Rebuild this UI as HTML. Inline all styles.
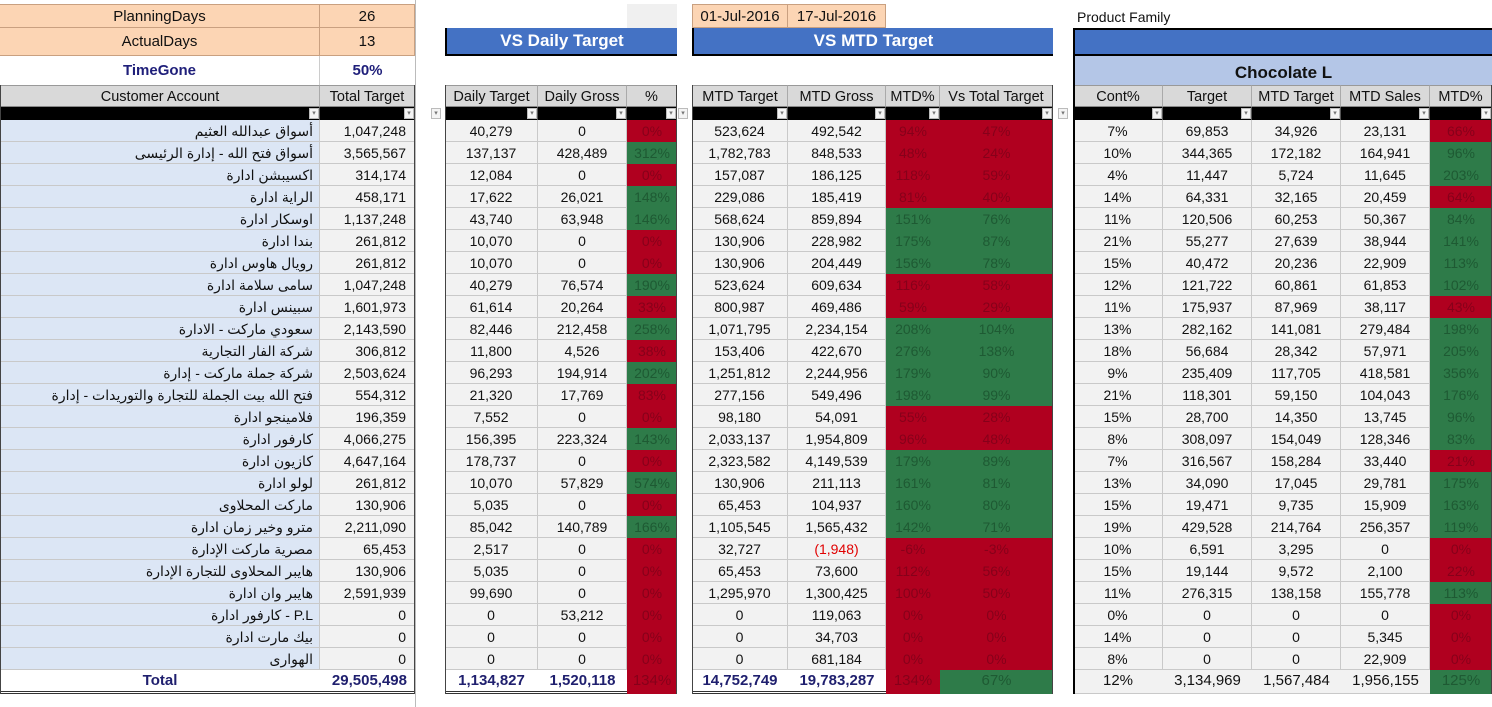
<!DOCTYPE html>
<html><head><meta charset="utf-8">
<style>
body{margin:0;width:1492px;height:707px;background:#fff;position:relative;overflow:hidden;font-family:"Liberation Sans","Noto Sans CJK SC","DejaVu Sans",sans-serif;}
.c{position:absolute;box-sizing:border-box;font-size:14px;line-height:22px;white-space:nowrap;overflow:hidden;color:#111;text-align:center;}
.g{background:#f2f2f2;border-right:1px solid #c9c9c9;border-bottom:1px solid #c9c9c9;}
.nm{background:#dce6f5;text-align:right;padding-right:6px;border-bottom:1px solid #c9c9c9;border-right:1px solid #c9c9c9;}
.tt{text-align:right;padding-right:8px;}
.R{background:#b0001f;color:#86001a;border-bottom:1px solid #b0001f;}
.G{background:#2e7b49;color:#1e5a33;border-bottom:1px solid #2e7b49;}
.h{background:#d9d9d9;border-right:1px solid #aaa;border-bottom:1px solid #888;}
.f{background:#000;height:13px;border-right:1px solid #555;}
.dd{position:absolute;width:10px;height:11px;background:#f4f4f4;border:1px solid #bbb;box-sizing:border-box;font-size:7px;line-height:9px;color:#777;text-align:center;}
.or{background:#fcd5b4;border-right:1px solid #c9a080;border-bottom:1px solid #c9a080;}
.bl{background:#4472c4;color:#fff;font-weight:bold;font-size:17px;line-height:26px;border:2px solid #000;border-top:none;border-right:none;}
.tot{font-weight:bold;color:#1f1f6e;background:#fff;border-bottom:3px double #333;}
</style></head><body>
<div class="c or" style="left:0;top:4px;width:320px;height:24px;font-size:15px;line-height:24px;border-top:1px solid #c9a080">PlanningDays</div>
<div class="c or" style="left:320px;top:4px;width:95px;height:24px;font-size:15px;line-height:24px;border-top:1px solid #c9a080">26</div>
<div class="c or" style="left:0;top:28px;width:320px;height:28px;font-size:15px;line-height:28px">ActualDays</div>
<div class="c or" style="left:320px;top:28px;width:95px;height:28px;font-size:15px;line-height:28px">13</div>
<div class="c" style="left:0;top:56px;width:320px;height:29px;font-size:15px;line-height:29px;font-weight:bold;color:#1f1f7a;border-right:1px solid #ccc">TimeGone</div>
<div class="c" style="left:320px;top:56px;width:95px;height:29px;font-size:15px;line-height:29px;font-weight:bold;color:#1f1f7a">50%</div>
<div class="c" style="left:627px;top:4px;width:50px;height:24px;background:#f0f0f0"></div>
<div class="c or" style="left:692px;top:4px;width:96px;height:24px;font-size:15px;line-height:24px;border-top:1px solid #c9a080;border-left:1px solid #c9a080">01-Jul-2016</div>
<div class="c or" style="left:788px;top:4px;width:98px;height:24px;font-size:15px;line-height:24px;border-top:1px solid #c9a080">17-Jul-2016</div>
<div class="c" style="left:1077px;top:6px;width:200px;height:22px;text-align:left;font-size:14px">Product Family</div>
<div class="c bl" style="left:445px;top:28px;width:232px;height:28px">VS Daily Target</div>
<div class="c bl" style="left:692px;top:28px;width:361px;height:28px">VS MTD Target</div>
<div class="c bl" style="left:1073px;top:28px;width:419px;height:28px;border-top:2px solid #000"></div>
<div class="c" style="left:1073px;top:56px;width:419px;height:29px;background:#b4c6e7;font-weight:bold;font-size:17px;line-height:33px;border-left:2px solid #000">Chocolate L</div>
<div style="position:absolute;left:415px;top:0;width:1px;height:707px;background:#bbb"></div>
<div id="grid"></div>
<script>
const names=["أسواق عبدالله العثيم","أسواق فتح الله - إدارة الرئيسى","اكسيبشن ادارة","الراية ادارة","اوسكار ادارة","بندا ادارة","رويال هاوس ادارة","سامى سلامة ادارة","سبينس ادارة","سعودي ماركت - الادارة","شركة الفار التجارية","شركة جملة ماركت - إدارة","فتح الله بيت الجملة للتجارة والتوريدات - إدارة","فلامينجو ادارة","كارفور ادارة","كازيون ادارة","لولو ادارة","ماركت المحلاوى","مترو وخير زمان ادارة","مصرية ماركت الإدارة","هايبر المحلاوى للتجارة الإدارة","هايبر وان ادارة","كارفور ادارة - P.L","بيك مارت ادارة","الهوارى"];
const totalTarget=["1,047,248","3,565,567","314,174","458,171","1,137,248","261,812","261,812","1,047,248","1,601,973","2,143,590","306,812","2,503,624","554,312","196,359","4,066,275","4,647,164","261,812","130,906","2,211,090","65,453","130,906","2,591,939","0","0","0"];
const dailyTarget=["40,279","137,137","12,084","17,622","43,740","10,070","10,070","40,279","61,614","82,446","11,800","96,293","21,320","7,552","156,395","178,737","10,070","5,035","85,042","2,517","5,035","99,690","0","0","0"];
const dailyGross=["0","428,489","0","26,021","63,948","0","0","76,574","20,264","212,458","4,526","194,914","17,769","0","223,324","0","57,829","0","140,789","0","0","0","53,212","0","0"];
const dailyPct=["0%","312%","0%","148%","146%","0%","0%","190%","33%","258%","38%","202%","83%","0%","143%","0%","574%","0%","166%","0%","0%","0%","0%","0%","0%"];
const dailyPctColor="RGRGGRRGRGRGRRGRGRGRRRRRR";
const mtdTarget=["523,624","1,782,783","157,087","229,086","568,624","130,906","130,906","523,624","800,987","1,071,795","153,406","1,251,812","277,156","98,180","2,033,137","2,323,582","130,906","65,453","1,105,545","32,727","65,453","1,295,970","0","0","0"];
const mtdGross=["492,542","848,533","186,125","185,419","859,894","228,982","204,449","609,634","469,486","2,234,154","422,670","2,244,956","549,496","54,091","1,954,809","4,149,539","211,113","104,937","1,565,432","(1,948)","73,600","1,300,425","119,063","34,703","681,184"];
const mtdPct=["94%","48%","118%","81%","151%","175%","156%","116%","59%","208%","276%","179%","198%","55%","96%","179%","161%","160%","142%","-6%","112%","100%","0%","0%","0%"];
const mtdPctColor="RRRRGGGRRGGGGRRGGGGRRRRRR";
const vsTotal=["47%","24%","59%","40%","76%","87%","78%","58%","29%","104%","138%","90%","99%","28%","48%","89%","81%","80%","71%","-3%","56%","50%","0%","0%","0%"];
const vsTotalColor="RRRRGGGRRGGGGRRGGGGRRRRRR";
const contPct=["7%","10%","4%","14%","11%","21%","15%","12%","11%","13%","18%","9%","21%","15%","8%","7%","13%","15%","19%","10%","15%","11%","0%","14%","8%"];
const chTarget=["69,853","344,365","11,447","64,331","120,506","55,277","40,472","121,722","175,937","282,162","56,684","235,409","118,301","28,700","308,097","316,567","34,090","19,471","429,528","6,591","19,144","276,315","0","0","0"];
const chMtdTarget=["34,926","172,182","5,724","32,165","60,253","27,639","20,236","60,861","87,969","141,081","28,342","117,705","59,150","14,350","154,049","158,284","17,045","9,735","214,764","3,295","9,572","138,158","0","0","0"];
const chMtdSales=["23,131","164,941","11,645","20,459","50,367","38,944","22,909","61,853","38,117","279,484","57,971","418,581","104,043","13,745","128,346","33,440","29,781","15,909","256,357","0","2,100","155,778","0","5,345","22,909"];
const chMtdPct=["66%","96%","203%","64%","84%","141%","113%","102%","43%","198%","205%","356%","176%","96%","83%","21%","175%","163%","119%","0%","22%","113%","0%","0%","0%"];
const chMtdPctColor="RGGRGGGGRGGGGGGRGGGRRGRRR";
const totals=["29,505,498","1,134,827","1,520,118","134%","14,752,749","19,783,287","134%","67%","12%","3,134,969","1,567,484","1,956,155","125%"];
const totalColors=["","","","R","","","R","G","","","","","G"];
const headers=["Customer Account","Total Target","Daily Target","Daily Gross","%","MTD Target","MTD Gross","MTD%","Vs Total Target","Cont%","Target","MTD Target","MTD Sales","MTD%"];

const cols=[[0,320],[320,95],[445,93],[538,89],[627,50],[692,96],[788,98],[886,54],[940,113],[1073,90],[1163,89],[1252,89],[1341,89],[1430,62]];
const grid=document.getElementById('grid');
function cell(x,y,w,h,txt,cls,name,inter){const d=document.createElement('div');d.className='c '+cls;d.style.left=x+'px';d.style.top=y+'px';d.style.width=w+'px';d.style.height=h+'px';d.textContent=txt;


grid.appendChild(d);return d;}
headers.forEach((t,i)=>{const c=cols[i];const d=cell(c[0],85,c[1],22,t,'h','column-header',true);d.style.fontSize='14.5px';if(i==0||i==2||i==5||i==9)d.style.borderLeft='1px solid #999';d.style.borderTop='1px solid #999';});
cols.forEach((c,i)=>{const d=cell(c[0],107,c[1],13,'','f','filter-cell',false);const b=document.createElement('div');b.className='dd';b.style.left=(c[0]+c[1]-11)+'px';b.style.top='108px';b.textContent='▾';


grid.appendChild(b);});
[431,678,1058].forEach(x=>{const b=document.createElement('div');b.className='dd';b.style.left=x+'px';b.style.top='108px';b.textContent='▾';


grid.appendChild(b);});
const RH=22,Y0=120;
const series=[totalTarget,dailyTarget,dailyGross,dailyPct,mtdTarget,mtdGross,mtdPct,vsTotal,contPct,chTarget,chMtdTarget,chMtdSales,chMtdPct];
const colorMap={3:dailyPctColor,6:mtdPctColor,7:vsTotalColor,12:chMtdPctColor};
names.forEach((n,r)=>{const y=Y0+r*RH;
 cell(0,y,320,RH,n,'nm','customer-name',false);
 series.forEach((s,j)=>{const c=cols[j+1];let cls='g';if(colorMap[j])cls=colorMap[j][r];if(j==0)cls+=' tt';
  const d=cell(c[0],y,c[1],RH,s[r],cls,'data-cell',false);
  if(s[r].startsWith('('))d.style.color='#e00000';});
});
const ty=Y0+names.length*RH;
cell(0,ty,320,24,'Total','tot','total-label',false).style.fontSize='15px';
totals.forEach((t,j)=>{const c=cols[j+1];let cls=totalColors[j]?totalColors[j]:'tot';if(j==0)cls+=' tt';
 const d=cell(c[0],ty,c[1],24,t,cls,'total-cell',false);d.style.fontSize='15px';
 if(j>=8&&!totalColors[j]){d.style.fontWeight='normal';d.style.color='#111';d.style.borderBottom='1px solid #c9c9c9';d.style.background='#f2f2f2';}
 if(totalColors[j]){d.style.fontSize='15px';}});
// section borders
[[0,415],[445,232],[692,361],[1073,419]].forEach(([x,w])=>{const d=document.createElement('div');d.style.cssText='position:absolute;left:'+x+'px;top:85px;width:'+w+'px;height:'+(ty+24-85)+'px;box-sizing:border-box;border-left:1px solid #444;border-right:1px solid #444;pointer-events:none';


grid.appendChild(d);});
const lb=document.createElement('div');lb.style.cssText='position:absolute;left:1073px;top:85px;width:2px;height:'+(ty+24-85)+'px;background:#000';


grid.appendChild(lb);
</script>
</body></html>
